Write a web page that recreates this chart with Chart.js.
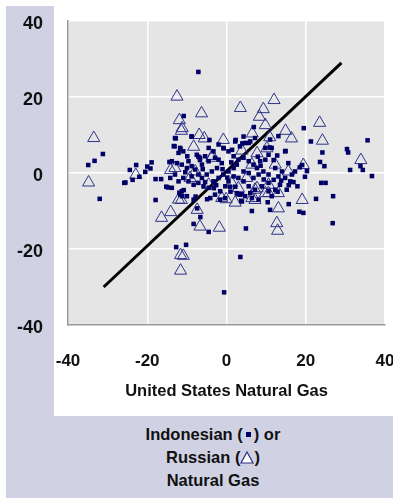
<!DOCTYPE html>
<html lang="en">
<head>
    <meta charset="UTF-8">
    <title>Natural Gas Scatter</title>
    <script src="https://cdn.jsdelivr.net/npm/chart.js"></script>
    <style>
        body { margin: 0; background: #fff; font-family: "Liberation Sans", Arial, sans-serif; }
        #wrap { position: relative; width: 393px; height: 500px; overflow: hidden; }
        .band { position: absolute; background: #d0d2e4; }
        #chart { position: absolute; left: 0; top: 0; }
        #note { position: absolute; left: 44px; top: 423px; width: 338px; text-align: center;
                font-weight: bold; font-size: 16.5px; line-height: 23px; color: #111; }
        .sq { display: inline-block; width: 5px; height: 5px; background: #000066; vertical-align: 3px; margin: 0 3px; }
    </style>
</head>
<body>
<div id="wrap">
    <div class="band" style="left:6px;top:6px;width:48px;height:492px"></div>
    <div class="band" style="left:6px;top:416px;width:387px;height:82px"></div>
    <canvas id="chart" width="393" height="416"></canvas>
    <div id="note">
        Indonesian (<span class="sq"></span>) or<br>
        Russian (<svg width="14" height="13" style="vertical-align:-1px"><polygon points="7,1 13,12 1,12" fill="#fff" stroke="#2a2f85" stroke-width="1.2"/></svg>)<br>
        Natural Gas
    </div>
</div>

<script>
    const axisTicks = [-40, -20, 0, 20, 40];
    const xTitle = 'United States Natural Gas';

    // Indonesian changes vs US changes (x = US, y = Indonesia)
    const indonesian = [
        [-31.2,5.0],[-33.3,3.2],[-34.9,2.1],[-32.0,-6.8],[-22.8,2.1],[-24.4,0.8],[-22.0,-1.0],[-23.7,-1.8],
        [-25.5,-2.5],[-25.8,-2.6],[-18.9,2.8],[-20.0,1.7],[-19.2,1.2],[-20.5,0.3],[-17.9,-1.6],[-16.5,-1.6],
        [-17.9,-7.1],[-15.2,-3.6],[-14.4,2.9],[-12.7,-19.5],[-10.2,-18.9],[3.5,-22.1],[-0.6,-31.4],[19.5,11.8],
        [21.3,8.3],[24.2,5.4],[30.4,6.3],[30.7,5.4],[35.6,8.6],[33.8,1.8],[34.4,0.8],[31.2,0.8],
        [36.7,-0.8],[23.6,2.9],[24.7,1.8],[19.1,2.1],[23.9,-2.6],[25.0,-2.6],[26.9,-6.1],[22.6,-6.8],
        [19.4,-10.5],[26.8,-13.2],[-7.1,26.6],[6.9,12.1],[13.1,9.7],[14.9,5.8],[2.3,8.7],[4.0,7.8],
        [-10.8,15.0],[-12.8,9.1],[-8.8,9.6],[-4.3,8.7],[-13.3,7.1],[-11.6,6.3],[-7.1,4.3],[-6.7,3.4],
        [-0.7,6.5],[1.4,6.1],[10.9,6.7],[11.9,3.4],[-8.3,-13.4],[-4.5,-15.5],[-6.6,-11.6],[-7.4,-9.3],
        [-4.9,-6.9],[-11.9,-5.2],[-11.2,-6.1],[-10.8,-4.5],[-14.8,-3.8],[-7.8,-6.2],[-3.2,-4.0],[1.0,-4.9],
        [4.9,-14.6],[6.4,-10.0],[11.0,-9.7],[10.4,-7.7],[15.7,-8.2],[18.4,-10.2],[16.9,-2.4],[15.7,-3.2],
        [12.9,-4.9],[2.9,-5.6],[3.9,-5.6],[3.7,-7.3],[0.9,-3.6],[2.2,-3.6],[18.5,1.5],[19.8,-1.0],
        [17.9,-3.5],[20.3,0.5],
        [-8.8,9.6],[-13.0,9.2],[-13.1,7.0],[-11.7,6.6],[-12.1,5.3],[-10.9,5.7],[-7.5,4.8],[-6.7,4.0],
        [-5.4,4.4],[-9.6,3.1],[-13.8,3.1],[-12.5,2.6],[-11.3,2.2],[-10.0,1.3],[-8.8,1.8],[-7.9,0.9],
        [-6.2,2.2],[-4.5,3.1],[-2.9,4.0],[-2.0,3.5],[-1.2,2.6],[-2.4,1.3],[-3.7,0.4],[-5.0,-0.4],
        [-6.2,-1.3],[-7.1,-2.6],[-5.8,-3.5],[-4.5,-3.9],[-3.3,-2.2],[-2.0,-1.3],[-0.8,-0.4],[0.5,0.4],
        [1.8,1.3],[2.6,2.2],[3.0,3.5],[4.3,4.0],[5.6,3.1],[6.8,2.2],[7.7,1.3],[8.5,3.1],
        [9.8,3.5],[10.6,4.8],[11.4,6.6],[14.8,5.7],[15.6,2.6],[14.0,0.4],[13.1,-0.9],[11.9,-1.8],
        [10.6,-2.6],[8.9,-3.5],[7.2,-4.4],[5.6,-3.5],[4.3,-2.2],[3.0,-1.3],[1.8,-0.9],[0.5,-2.2],
        [-0.3,-3.5],[-1.6,-4.8],[-2.9,-5.7],[-4.1,-6.6],[2.6,-5.3],[3.4,-5.7],[4.7,-6.1],[6.0,-5.3],
        [10.6,-4.8],[12.3,-4.4],[13.5,-3.1],[14.8,-1.3],[16.5,-0.4],[17.3,0.4],[16.1,-2.2],[10.6,-0.4],
        [9.3,0.4],[8.1,-0.4],[6.8,-1.3],[5.6,0.0],[4.3,0.4],[2.2,8.3],[3.4,7.0],[4.7,7.9],
        [6.0,8.3],[7.2,9.2],[1.8,4.4],[0.5,5.7],[-0.8,6.6],[-2.0,7.5],[-3.3,5.7],[-4.5,6.6],
        [-11.3,-4.8],[-11.7,-5.7],[-10.0,-6.1],[-8.3,-7.0],[-13.8,-3.9],[-14.2,-1.3],[-13.0,-0.4],[-12.1,-2.2],
        [-10.9,-1.3],[-9.6,-2.2],[-8.3,-3.1],[-7.1,-0.4],[-8.8,-0.9],[9.8,6.6],[12.3,1.3],[15.2,-4.4],
        [11.4,-6.1],[8.1,-7.0],[6.4,-6.6],[3.9,-7.5],[5.6,7.9],[4.3,9.6],[11.0,8.8],[-1.6,-7.0],
        [-0.3,-6.6],[-9.9,4.4],[-10.4,0.2],[-6.0,1.0],[-1.0,1.0],[1.2,2.8],[7.9,4.3],[12.8,4.6],
        [13.8,-2.0],[9.4,-1.7],[-5.4,-2.4],[-2.6,-3.2],[0.2,-1.2],[8.6,1.9]
    ];

    // Russian changes vs US changes
    const russian = [
        [-33.5,9.2],[-34.8,-2.5],[-22.9,-0.5],[-16.4,-11.8],[-14.1,-10.3],[-11.6,-21.6],[-10.9,-21.8],[-11.6,-25.7],
        [23.5,13.2],[24.2,8.5],[33.9,3.4],[19.4,2.1],[19.1,-7.1],[3.5,17.1],[12.0,19.2],[9.3,16.8],
        [8.3,14.8],[9.8,12.6],[14.9,11.1],[16.4,9.1],[-6.3,15.7],[-6.9,10.0],[-5.6,9.1],[-8.3,6.9],
        [-0.8,8.7],[6.5,10.4],[10.9,9.4],[-12.5,20.1],[-11.9,13.9],[-11.2,11.8],[-11.4,11.1],[-3.6,4.5],
        [-14.1,0.8],[3.9,5.9],[7.7,5.2],[10.2,6.5],[-7.4,-9.7],[-6.7,-14.1],[-1.8,-14.4],[-11.4,-7.1],
        [-0.1,-6.9],[13.1,-9.3],[12.7,-13.2],[12.9,-15.2],[7.2,-7.1],[2.2,-7.8],[10.6,-5.3],[7.7,-4.0],
        [13.1,-5.3],[-3.7,4.0],[12.3,2.2],[-13.0,1.3],[-7.9,0.4],[-9.2,-1.3],[5.1,-1.3],[-4.5,-3.1],
        [3.0,-4.0],[7.2,-4.4],[9.8,-5.3],[-12.1,-7.0],[-1.2,-6.6],[6.4,-6.6],[1.3,-2.6],[15.6,0.4],
        [10.6,-3.1],[6.4,2.2]
    ];

    const fitLine = [[-31, -30], [29, 29]];

    const toPts = arr => arr.map(p => ({ x: p[0], y: p[1] }));

    const plotBg = {
        id: 'plotBg',
        beforeDraw(chart) {
            const { ctx, chartArea: a } = chart;
            ctx.save();
            ctx.fillStyle = '#e5e5e5';
            ctx.fillRect(a.left, a.top, a.right - a.left, a.bottom - a.top);
            ctx.restore();
        }
    };

    const font = 'Liberation Sans, Arial, sans-serif';

    new Chart(document.getElementById('chart'), {
        type: 'scatter',
        data: {
            datasets: [
                {
                    data: toPts(indonesian),
                    pointStyle: 'rect',
                    pointRadius: 3.2,
                    backgroundColor: '#000066',
                    borderColor: '#000066',
                    borderWidth: 0
                },
                {
                    data: toPts(russian),
                    pointStyle: 'triangle',
                    pointRadius: 7,
                    backgroundColor: 'rgba(0,0,0,0)',
                    borderColor: '#2f3488',
                    borderWidth: 1
                },
                {
                    type: 'line',
                    data: toPts(fitLine),
                    borderColor: '#000',
                    borderWidth: 3,
                    pointRadius: 0,
                    fill: false
                }
            ]
        },
        options: {
            responsive: false,
            animation: false,
            layout: { padding: { top: 21, right: 8, left: 0, bottom: 0 } },
            plugins: { legend: { display: false }, tooltip: { enabled: false } },
            scales: {
                x: {
                    type: 'linear',
                    min: -40, max: 40,
                    afterBuildTicks: s => { s.ticks = axisTicks.map(v => ({ value: v })); },
                    afterFit: s => { s.height = 91; s.paddingLeft = 0; s.paddingRight = 0; },
                    grid: { color: '#fff', lineWidth: 1.5, drawTicks: false },
                    border: { color: '#9a9a9a', width: 1.5 },
                    ticks: { padding: 26, color: '#111', maxRotation: 0,
                             font: { family: font, size: 17, weight: 'bold' } },
                    title: { display: true, text: xTitle, color: '#111',
                             padding: { top: 0, bottom: 15 },
                             font: { family: font, size: 16.5, weight: 'bold' } }
                },
                y: {
                    min: -40, max: 40,
                    afterBuildTicks: s => { s.ticks = axisTicks.map(v => ({ value: v })); },
                    afterFit: s => { s.width = 68; s.paddingTop = 0; s.paddingBottom = 0; },
                    grid: { color: '#fff', lineWidth: 1.5, drawTicks: false },
                    border: { color: '#9a9a9a', width: 1.5 },
                    ticks: { padding: 25, color: '#111', labelOffset: 3,
                             font: { family: font, size: 18, weight: 'bold' } }
                }
            }
        },
        plugins: [plotBg]
    });
</script>
</body>
</html>
